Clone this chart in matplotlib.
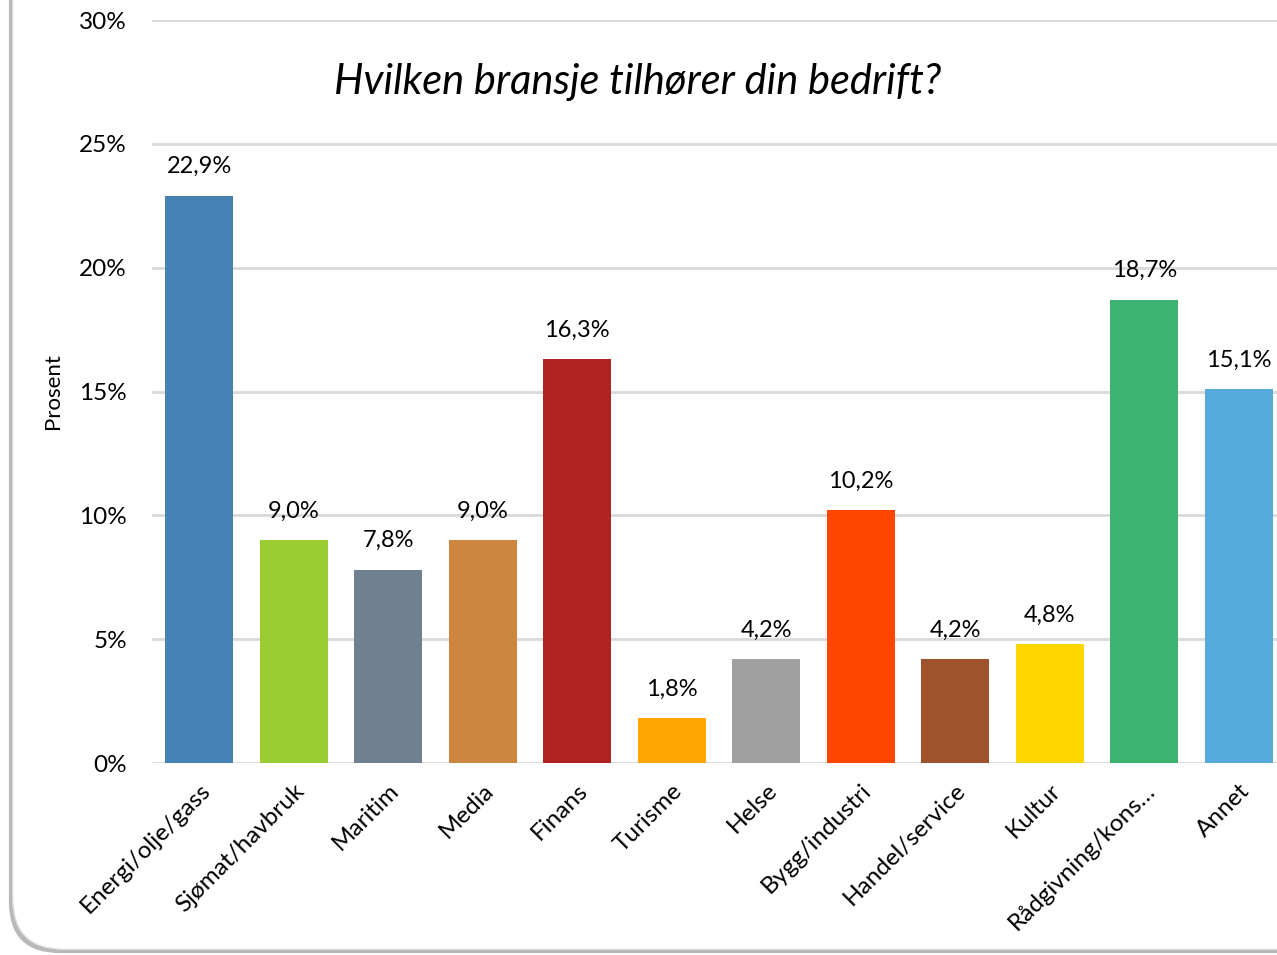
import matplotlib.pyplot as plt
from matplotlib.patches import FancyBboxPatch
from matplotlib.ticker import FuncFormatter

# data ---------------------------------------------
kategorier = ['Energi/olje/gass', 'Sjømat/havbruk', 'Maritim', 'Media', 'Finans',
              'Turisme', 'Helse', 'Bygg/industri', 'Handel/service', 'Kultur',
              'Rådgivning/kons…', 'Annet']
prosent = [22.9, 9.0, 7.8, 9.0, 16.3, 1.8, 4.2, 10.2, 4.2, 4.8, 18.7, 15.1]
farger = ['#4682B4', '#9ACD32', '#708090', '#CD853F', '#B22222', '#FFA500',
          '#A0A0A0', '#FF4500', '#A0522D', '#FFD700', '#3CB371', '#55A9DD']
yticks = [0, 5, 10, 15, 20, 25, 30]

plt.rcParams['font.family'] = ['Lato', 'DejaVu Sans']

fig = plt.figure(figsize=(12.77, 9.55), dpi=100)

# rounded frame with shadow
shadow = FancyBboxPatch((0.007, 0.002), 1.2, 1.2, boxstyle='round,pad=0,rounding_size=0.04',
                        transform=fig.transFigure, facecolor='#B8B8B8', edgecolor='none',
                        zorder=-3, mutation_aspect=1277/955)
frame = FancyBboxPatch((0.010, 0.006), 1.2, 1.2, boxstyle='round,pad=0,rounding_size=0.04',
                       transform=fig.transFigure, facecolor='white', edgecolor='#E0E0E0',
                       linewidth=1.0, zorder=-2, mutation_aspect=1277/955)
fig.patches.extend([shadow, frame])

ax = fig.add_axes([0.119, 0.201, 0.888, 0.778])
ax.patch.set_alpha(0)

x = range(len(kategorier))
bars = ax.bar(x, prosent, width=0.72, color=farger, zorder=3)
for xi, v in zip(x, prosent):
    ax.text(xi, v + 0.75, f'{v:.1f}%'.replace('.', ','), ha='center', va='bottom', fontsize=17)

ax.set_xlim(-0.5, len(kategorier) - 0.5)
ax.set_ylim(0, 30)
ax.set_yticks(yticks)
ax.yaxis.set_major_formatter(FuncFormatter(lambda v, p: f'{v:.0f}%'))
ax.grid(axis='y', color='#D9D9D9', linewidth=2, zorder=0)
for s in ax.spines.values():
    s.set_visible(False)
ax.tick_params(axis='both', length=0, labelsize=17.5)
ax.tick_params(axis='y', pad=18)
ax.set_xticks(list(x))
ax.set_xticklabels(kategorier, rotation=45, ha='right', rotation_mode='anchor', fontsize=17.5)
ax.tick_params(axis='x', pad=12)
ax.set_ylabel('Prosent', fontsize=16, labelpad=12)

fig.text(0.499, 0.914, 'Hvilken bransje tilhører din bedrift?', ha='center', va='center',
         fontsize=30, style='italic')

fig.savefig('out.png', dpi=100)
